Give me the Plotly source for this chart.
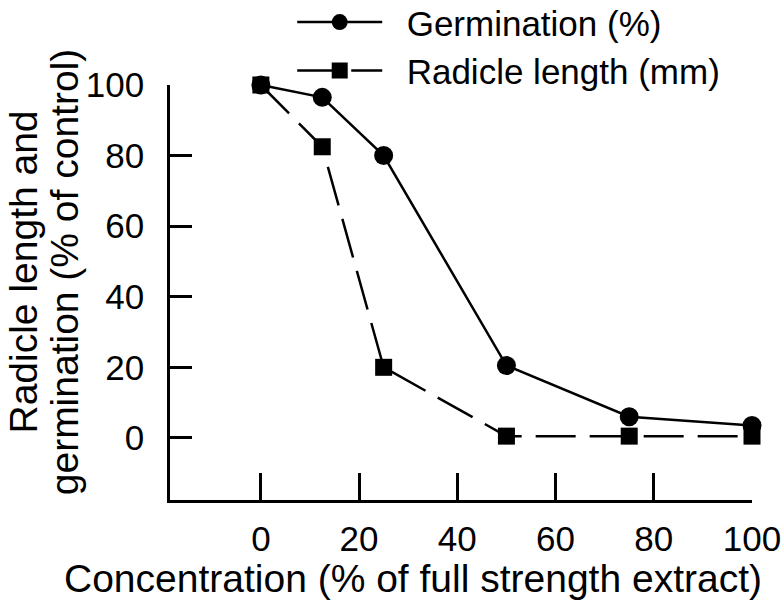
import plotly.graph_objects as go

# concentration of extract (% of full strength)
concentration = [0, 12.5, 25, 50, 75, 100]
germination = [100, 96.5, 80, 20.5, 6, 3.5]
radicle_length = [100, 82.5, 20, 0.5, 0.5, 0.5]

x_ticks = [0, 20, 40, 60, 80, 100]
y_ticks = [0, 20, 40, 60, 80, 100]

x_title = "Concentration (% of full strength extract)"
y_title_lines = ["Radicle length and", "germination (% of control)"]

font_main = dict(family="Arial, Liberation Sans, sans-serif", color="black")
nbsp = "\u00a0\u00a0"

fig = go.Figure()

fig.add_trace(go.Scatter(
    x=concentration, y=germination,
    mode="lines+markers",
    name=nbsp + "Germination (%)",
    legendgroup="g",
    line=dict(color="black", width=2.5),
    marker=dict(symbol="circle", size=19, color="black"),
    cliponaxis=False,
))

fig.add_trace(go.Scatter(
    x=concentration, y=radicle_length,
    mode="lines+markers",
    name=nbsp + "Radicle length (mm)",
    legendgroup="r",
    line=dict(color="black", width=2.5, dash="40px,14px"),
    marker=dict(symbol="square", size=17, color="black"),
    cliponaxis=False,
))

fig.update_xaxes(
    range=[-18.5, 100],
    tickvals=x_ticks,
    ticks="inside", ticklen=27, tickwidth=2.5, tickcolor="black",
    showline=True, linecolor="black", linewidth=2.5,
    showgrid=False, zeroline=False, automargin=False,
    tickfont=dict(size=35, **font_main),
    ticklabelstandoff=6,
)

fig.update_yaxes(
    range=[-17.6, 100],
    tickvals=y_ticks,
    ticks="inside", ticklen=22, tickwidth=2.5, tickcolor="black",
    showline=True, linecolor="black", linewidth=2.5,
    showgrid=False, zeroline=False, automargin=False,
    tickfont=dict(size=35, **font_main),
    ticklabelstandoff=16,
)

# axis titles placed as annotations (offset from the plot centre in the original)
fig.add_annotation(text=x_title, xref="paper", yref="paper",
                   x=0.4175, y=-0.19, xanchor="center", yanchor="middle",
                   showarrow=False, font=dict(size=39, **font_main))
for line, xpos in zip(y_title_lines, [-0.252, -0.182]):
    fig.add_annotation(text=line, xref="paper", yref="paper",
                       x=xpos, y=0.549, xanchor="center", yanchor="middle",
                       textangle=-90, showarrow=False,
                       font=dict(size=39, **font_main))

fig.update_layout(
    width=783, height=603,
    margin=dict(l=170, r=31, t=85, b=103, autoexpand=False),
    paper_bgcolor="white",
    plot_bgcolor="white",
    showlegend=True,
    legend=dict(
        x=0.21, y=1.222, xanchor="left", yanchor="top",
        font=dict(size=35, **font_main),
        bgcolor="rgba(0,0,0,0)",
        tracegroupgap=0,
        itemwidth=85,
    ),
)

fig.write_html("out.html", config={"displayModeBar": False},
               post_script="document.body.style.margin='0';")
